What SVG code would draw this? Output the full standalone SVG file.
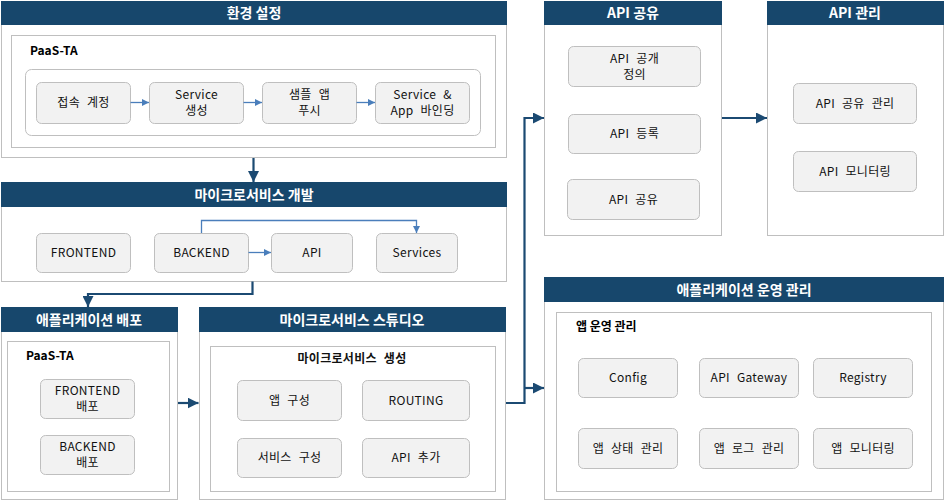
<svg xmlns="http://www.w3.org/2000/svg" width="944" height="500" viewBox="0 0 944 500">
<defs>
<style>
.panel{fill:#ffffff;stroke:#bfbfbf;stroke-width:1}
.hdr{fill:#17476c}
.ht{font-family:"Noto Sans CJK KR","Noto Sans",sans-serif;font-size:14px;font-weight:bold;fill:#ffffff;text-anchor:middle}
.inner{fill:#ffffff;stroke:#bfbfbf;stroke-width:1}
.node{fill:#f2f2f2;stroke:#bfbfbf;stroke-width:1}
.nt{font-family:"Noto Sans CJK KR","Noto Sans",sans-serif;font-size:12px;fill:#111111;text-anchor:middle;word-spacing:4px;letter-spacing:0.3px}
.lbl{font-family:"Noto Sans CJK KR","Noto Sans",sans-serif;font-size:12px;font-weight:bold;fill:#000000}
.ca{fill:none;stroke:#4a7ebb;stroke-width:1.3}
.cb{fill:none;stroke:#1b4a72;stroke-width:2.2}
</style>
<marker id="ah" viewBox="0 0 10 10" refX="10" refY="5" markerWidth="7" markerHeight="7" markerUnits="userSpaceOnUse" orient="auto"><path d="M0,0 L10,5 L0,10 z" fill="#4a7ebb"/></marker>
<marker id="bh" viewBox="0 0 10 10" refX="10" refY="5" markerWidth="5" markerHeight="5" orient="auto"><path d="M0,0 L10,5 L0,10 z" fill="#1b4a72"/></marker>
</defs>

<g id="panel-env">
<rect class="panel" x="1.5" y="1.5" width="505" height="156"/>
<rect class="hdr" x="1" y="1" width="506" height="24"/>
<text class="ht" x="254" y="18">환경 설정</text>
<rect class="inner" x="11.5" y="35.5" width="484" height="112"/>
<text class="lbl" x="30" y="55">PaaS-TA</text>
<rect class="inner" x="25.5" y="69.5" width="455" height="66" rx="6"/>
</g>
<g id="n-access"><rect class="node" x="36.5" y="82.5" width="94" height="41" rx="5"/><text class="nt" x="83.5" y="107">접속 계정</text></g>
<g id="n-svc-create"><rect class="node" x="149.5" y="82.5" width="94" height="41" rx="5"/><text class="nt" x="196.5" y="99">Service</text><text class="nt" x="196.5" y="115">생성</text></g>
<g id="n-push"><rect class="node" x="262.5" y="82.5" width="94" height="41" rx="5"/><text class="nt" x="309.5" y="99">샘플 앱</text><text class="nt" x="309.5" y="115">푸시</text></g>
<g id="n-bind"><rect class="node" x="375.5" y="82.5" width="94" height="41" rx="5"/><text class="nt" x="422.5" y="99">Service &amp;</text><text class="nt" x="422.5" y="115">App 바인딩</text></g>

<g id="panel-msdev">
<rect class="panel" x="1.5" y="182.5" width="505" height="99"/>
<rect class="hdr" x="1" y="182" width="506" height="25"/>
<text class="ht" x="254" y="200">마이크로서비스 개발</text>
</g>
<g id="n-frontend"><rect class="node" x="36.5" y="233.5" width="94" height="39" rx="5"/><text class="nt" x="83.5" y="257">FRONTEND</text></g>
<g id="n-backend"><rect class="node" x="154.5" y="233.5" width="94" height="39" rx="5"/><text class="nt" x="201.5" y="257">BACKEND</text></g>
<g id="n-api"><rect class="node" x="271.5" y="233.5" width="81" height="39" rx="5"/><text class="nt" x="312" y="257">API</text></g>
<g id="n-services"><rect class="node" x="376.5" y="233.5" width="81" height="39" rx="5"/><text class="nt" x="417" y="257">Services</text></g>

<g id="panel-deploy">
<rect class="panel" x="1.5" y="307.5" width="176" height="192"/>
<rect class="hdr" x="1" y="307" width="177" height="25"/>
<text class="ht" x="89" y="325">애플리케이션 배포</text>
<rect class="inner" x="7.5" y="341.5" width="162" height="150"/>
<text class="lbl" x="26" y="360">PaaS-TA</text>
</g>
<g id="n-fe-deploy"><rect class="node" x="40.5" y="379.5" width="94" height="39" rx="5"/><text class="nt" x="87.5" y="395">FRONTEND</text><text class="nt" x="87.5" y="411">배포</text></g>
<g id="n-be-deploy"><rect class="node" x="40.5" y="435.5" width="94" height="39" rx="5"/><text class="nt" x="87.5" y="451">BACKEND</text><text class="nt" x="87.5" y="467">배포</text></g>

<g id="panel-studio">
<rect class="panel" x="199.5" y="307.5" width="306" height="192"/>
<rect class="hdr" x="199" y="307" width="307" height="25"/>
<text class="ht" x="352" y="325">마이크로서비스 스튜디오</text>
<rect class="inner" x="210.5" y="346.5" width="285" height="145"/>
<text class="nt" x="352" y="363" style="font-weight:bold">마이크로서비스 생성</text>
</g>
<g id="n-app-config"><rect class="node" x="237.5" y="380.5" width="104" height="40" rx="5"/><text class="nt" x="289.5" y="405">앱 구성</text></g>
<g id="n-routing"><rect class="node" x="362.5" y="380.5" width="107" height="40" rx="5"/><text class="nt" x="416" y="405">ROUTING</text></g>
<g id="n-svc-config"><rect class="node" x="237.5" y="438.5" width="104" height="39" rx="5"/><text class="nt" x="289.5" y="462">서비스 구성</text></g>
<g id="n-api-add"><rect class="node" x="362.5" y="438.5" width="107" height="39" rx="5"/><text class="nt" x="416" y="462">API 추가</text></g>

<g id="panel-apishare">
<rect class="panel" x="544.5" y="1.5" width="177" height="234"/>
<rect class="hdr" x="544" y="1" width="178" height="24"/>
<text class="ht" x="633" y="18">API 공유</text>
</g>
<g id="n-api-def"><rect class="node" x="568.5" y="46.5" width="132" height="40" rx="5"/><text class="nt" x="634.5" y="63">API 공개</text><text class="nt" x="634.5" y="79">정의</text></g>
<g id="n-api-reg"><rect class="node" x="568.5" y="114.5" width="132" height="39" rx="5"/><text class="nt" x="634.5" y="138">API 등록</text></g>
<g id="n-api-share"><rect class="node" x="567.5" y="179.5" width="132" height="40" rx="5"/><text class="nt" x="633.5" y="204">API 공유</text></g>

<g id="panel-apimgmt">
<rect class="panel" x="767.5" y="1.5" width="176" height="234"/>
<rect class="hdr" x="767" y="1" width="177" height="24"/>
<text class="ht" x="855" y="18">API 관리</text>
</g>
<g id="n-api-share-mgmt"><rect class="node" x="793.5" y="83.5" width="123" height="40" rx="5"/><text class="nt" x="855" y="108">API 공유 관리</text></g>
<g id="n-api-monitor"><rect class="node" x="793.5" y="151.5" width="123" height="40" rx="5"/><text class="nt" x="855" y="176">API 모니터링</text></g>

<g id="panel-ops">
<rect class="panel" x="544.5" y="277.5" width="399" height="222"/>
<rect class="hdr" x="544" y="277" width="400" height="25"/>
<text class="ht" x="744" y="295">애플리케이션 운영 관리</text>
<rect class="inner" x="556.5" y="312.5" width="375" height="179"/>
<text class="lbl" x="576" y="331">앱 운영 관리</text>
</g>
<g id="n-config"><rect class="node" x="578.5" y="358.5" width="99" height="39" rx="5"/><text class="nt" x="628" y="382">Config</text></g>
<g id="n-gateway"><rect class="node" x="699.5" y="358.5" width="99" height="39" rx="5"/><text class="nt" x="749" y="382">API Gateway</text></g>
<g id="n-registry"><rect class="node" x="813.5" y="358.5" width="99" height="39" rx="5"/><text class="nt" x="863" y="382">Registry</text></g>
<g id="n-app-state"><rect class="node" x="578.5" y="428.5" width="99" height="40" rx="5"/><text class="nt" x="628" y="453">앱 상태 관리</text></g>
<g id="n-app-log"><rect class="node" x="699.5" y="428.5" width="99" height="40" rx="5"/><text class="nt" x="749" y="453">앱 로그 관리</text></g>
<g id="n-app-monitor"><rect class="node" x="813.5" y="428.5" width="99" height="40" rx="5"/><text class="nt" x="863" y="453">앱 모니터링</text></g>

<g id="connectors">
<path class="ca" d="M130.5,102.5 H149" marker-end="url(#ah)"/>
<path class="ca" d="M243.5,102.5 H262" marker-end="url(#ah)"/>
<path class="ca" d="M356.5,102.5 H375" marker-end="url(#ah)"/>
<path class="ca" d="M248.5,252.5 H271" marker-end="url(#ah)"/>
<path class="ca" d="M201.5,233 V220.5 H416.5 V233" marker-end="url(#ah)"/>
<path class="cb" d="M253.5,158 V182" marker-end="url(#bh)"/>
<path class="cb" d="M252.5,281.5 V294 H88 V307" marker-end="url(#bh)"/>
<path class="cb" d="M178,403 H198.5" marker-end="url(#bh)"/>
<path class="cb" d="M506,403 H524.5 V118 H544" marker-end="url(#bh)"/>
<path class="cb" d="M524.5,388 H544" marker-end="url(#bh)"/>
<path class="cb" d="M722,118 H767" marker-end="url(#bh)"/>
</g>
</svg>
